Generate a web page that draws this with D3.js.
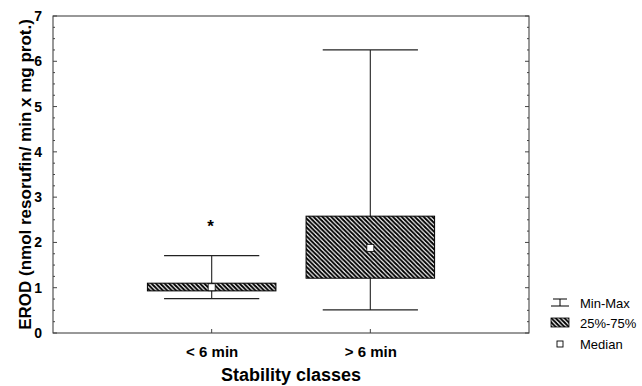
<!DOCTYPE html>
<html><head><meta charset="utf-8">
<script src="https://cdn.jsdelivr.net/npm/d3@7"></script>
<style>body{margin:0;background:#fff}svg{display:block}text{font-family:"Liberation Sans",Arial,sans-serif}</style>
</head><body><svg id="c" width="642" height="386"></svg>
<script>
const categories = ["< 6 min", "> 6 min"];
const minVals = [0.76, 0.51];
const q1Vals = [0.93, 1.21];
const medianVals = [1.01, 1.88];
const q3Vals = [1.10, 2.58];
const maxVals = [1.71, 6.25];
const outliers = [{cat: 0, value: 2.43}];
const yTicks = [0, 1, 2, 3, 4, 5, 6, 7];
const legendLabels = ["Min-Max", "25%-75%", "Median"];

const svg = d3.select("#c");
const L = 53, R = 529, T = 16, B = 333;
const x = d3.scaleLinear().domain([0, 3]).range([L, R]);
const y = d3.scaleLinear().domain([0, 7]).range([B, T]);

const defs = svg.append("defs");
const pat = defs.append("pattern").attr("id", "hatch").attr("patternUnits", "userSpaceOnUse")
  .attr("width", 4.4).attr("height", 4.4);
pat.append("rect").attr("width", 4.4).attr("height", 4.4).attr("fill", "#fff");
pat.append("path").attr("d", "M0,0L4.4,4.4M-1.1,3.3L1.1,5.5M3.3,-1.1L5.5,1.1")
  .attr("stroke", "#000").attr("stroke-width", 2.0);

// frame
svg.append("rect").attr("x", L).attr("y", T).attr("width", R - L).attr("height", B - T)
  .attr("fill", "none").attr("stroke", "#333").attr("stroke-width", 1);

// y ticks (inside on left and right)
const minor = d3.range(0, 7.001, 0.25);
const g = svg.append("g");
minor.forEach(v => {
  const major = Math.abs(v - Math.round(v)) < 1e-6;
  const len = major ? 4 : 2;
  g.append("line").attr("x1", L).attr("x2", L + len).attr("y1", y(v)).attr("y2", y(v)).attr("stroke", "#444");
  g.append("line").attr("x1", R).attr("x2", R - len).attr("y1", y(v)).attr("y2", y(v)).attr("stroke", "#444");
});
const yAxis = d3.axisLeft(y).tickValues(yTicks).tickSize(0).tickPadding(11).tickFormat(d3.format("d"));
const ya = svg.append("g").attr("transform", `translate(${L},0)`).call(yAxis);
ya.select(".domain").remove();
ya.selectAll("text").attr("font-size", 14).attr("font-weight", "bold").attr("fill", "#000")
  .attr("font-family", '"Liberation Sans",Arial,sans-serif');

// x axis
const xAxis = d3.axisBottom(x).tickValues([1, 2]).tickSize(0).tickPadding(13).tickFormat(d => categories[d - 1]);
const xa = svg.append("g").attr("transform", `translate(0,${B})`).call(xAxis);
xa.select(".domain").remove();
xa.selectAll("text").attr("font-size", 15).attr("font-weight", "bold").attr("fill", "#000")
  .attr("font-family", '"Liberation Sans",Arial,sans-serif');
[1, 2].forEach(c => {
  svg.append("line").attr("x1", x(c)).attr("x2", x(c)).attr("y1", B).attr("y2", B - 4).attr("stroke", "#444");
});

// boxes
const boxW = x(0.81) - x(0), capW = x(0.6) - x(0);
categories.forEach((c, i) => {
  const cx = x(i + 1);
  const bg = svg.append("g");
  bg.append("line").attr("x1", cx).attr("x2", cx).attr("y1", y(maxVals[i])).attr("y2", y(q3Vals[i])).attr("stroke", "#333").attr("stroke-width", 1.2);
  bg.append("line").attr("x1", cx).attr("x2", cx).attr("y1", y(q1Vals[i])).attr("y2", y(minVals[i])).attr("stroke", "#333").attr("stroke-width", 1.2);
  [maxVals[i], minVals[i]].forEach(v => {
    bg.append("line").attr("x1", cx - capW / 2).attr("x2", cx + capW / 2).attr("y1", y(v)).attr("y2", y(v)).attr("stroke", "#222").attr("stroke-width", 1.2);
  });
  bg.append("rect").attr("x", cx - boxW / 2).attr("y", y(q3Vals[i])).attr("width", boxW)
    .attr("height", y(q1Vals[i]) - y(q3Vals[i])).attr("fill", "url(#hatch)").attr("stroke", "#000").attr("stroke-width", 1);
  bg.append("rect").attr("x", cx - 3.5).attr("y", y(medianVals[i]) - 3.5).attr("width", 7).attr("height", 7)
    .attr("fill", "#fff").attr("stroke", "#000").attr("stroke-width", 0.8);
});

// outliers
outliers.forEach(o => {
  svg.append("text").attr("x", x(o.cat + 1) - 1).attr("y", y(o.value) + 17 * 0.55).attr("text-anchor", "middle")
    .attr("font-size", 17).attr("font-weight", "bold").text("*");
});

// axis titles
svg.append("text").attr("x", (L + R) / 2).attr("y", 381).attr("text-anchor", "middle")
  .attr("font-size", 18).attr("font-weight", "bold").text("Stability classes");
svg.append("text").attr("transform", `translate(31,${(T + B) / 2}) rotate(-90)`).attr("text-anchor", "middle")
  .attr("font-size", 17).attr("font-weight", "bold").text("EROD (nmol resorufin/ min x mg prot.)");

// legend
const lg = svg.append("g");
const rows = [303, 323, 344];
lg.append("line").attr("x1", 553).attr("x2", 567).attr("y1", rows[0] - 4).attr("y2", rows[0] - 4).attr("stroke", "#000");
lg.append("line").attr("x1", 560).attr("x2", 560).attr("y1", rows[0] - 4).attr("y2", rows[0] + 3).attr("stroke", "#000");
lg.append("line").attr("x1", 551).attr("x2", 569).attr("y1", rows[0] + 3).attr("y2", rows[0] + 3).attr("stroke", "#000");
lg.append("rect").attr("x", 551).attr("y", rows[1] - 5).attr("width", 18).attr("height", 9)
  .attr("fill", "url(#hatch)").attr("stroke", "#000").attr("stroke-width", 0.8);
lg.append("rect").attr("x", 557).attr("y", rows[2] - 3).attr("width", 6).attr("height", 6)
  .attr("fill", "#fff").attr("stroke", "#000").attr("stroke-width", 0.9);
legendLabels.forEach((l, i) => {
  lg.append("text").attr("x", 580).attr("y", rows[i] + 4.5).attr("font-size", 13).text(l);
});
</script></body></html>
